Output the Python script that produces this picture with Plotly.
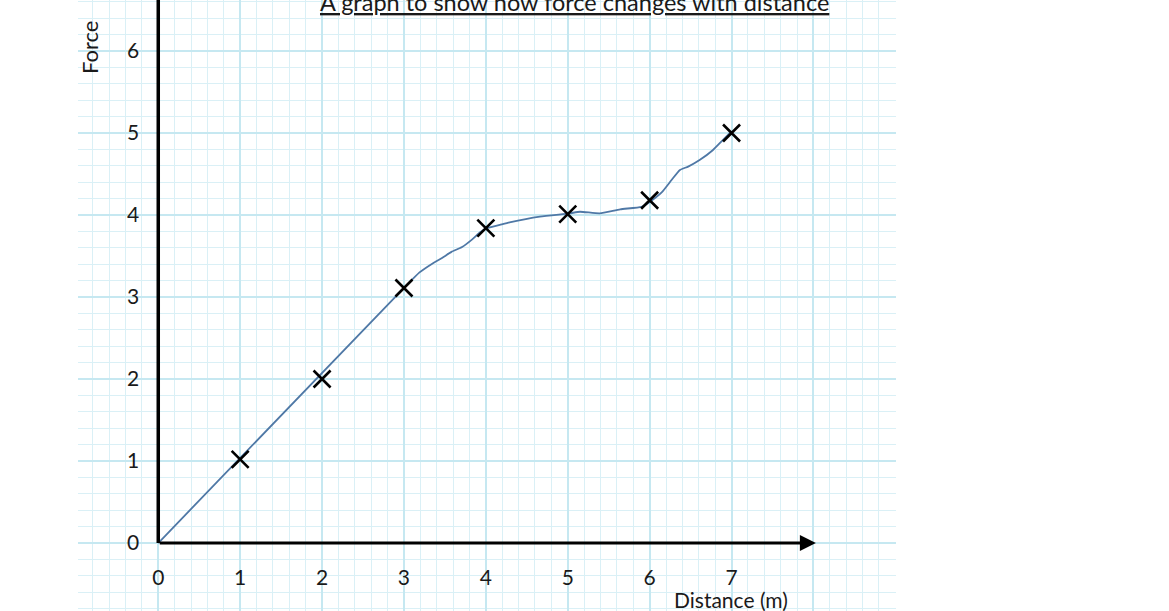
import plotly.graph_objects as go

# ---- data ----
distance_points = [1, 2, 3, 4, 5, 6, 7]
force_points = [1.02, 2.0, 3.11, 3.84, 4.01, 4.18, 5.0]

# hand-drawn curve of best fit
curve_x = [0, 3.01, 3.19, 3.35, 3.47, 3.58, 3.71, 3.83, 3.93, 4.01, 4.17, 4.29,
           4.66, 5.02, 5.15, 5.39, 5.64, 5.90, 6.0, 6.15, 6.27, 6.37, 6.47, 6.61,
           6.77, 6.89, 6.98]
curve_y = [0, 3.12, 3.30, 3.41, 3.48, 3.55, 3.61, 3.70, 3.79, 3.84, 3.88, 3.91,
           3.98, 4.02, 4.04, 4.02, 4.07, 4.10, 4.16, 4.28, 4.43, 4.55, 4.59, 4.67,
           4.79, 4.91, 5.0]

x_tickvals = [0, 1, 2, 3, 4, 5, 6, 7, 8, 9]
x_ticktext = ["0", "1", "2", "3", "4", "5", "6", "7", "", ""]
y_tickvals = [0, 1, 2, 3, 4, 5, 6]
y_ticktext = ["0", "1", "2", "3", "4", "5", "6"]

title_text = "A graph to show how force changes with distance"
x_title = "Distance (m)"
y_title = "Force"

FONT = "Lato"
TXT = "#1a1a1a"
MINOR = "#daf0f6"
MAJOR = "#c6e8f1"

fig = go.Figure()

fig.add_trace(go.Scatter(
    x=curve_x, y=curve_y, mode="lines",
    line=dict(color="#4f78a6", width=1.8, shape="spline", smoothing=0.5),
    hoverinfo="skip", showlegend=False))

fig.add_trace(go.Scatter(
    x=distance_points, y=force_points, mode="markers",
    marker=dict(symbol="x-thin", size=17, line=dict(color="black", width=2.6)),
    showlegend=False))

# y axis line
fig.add_shape(type="line", xref="x", yref="y", x0=0, x1=0, y0=0, y1=7,
              line=dict(color="black", width=3.5), layer="above")

# x axis line with arrow
fig.add_annotation(x=8.03, y=0, ax=0, ay=0, xref="x", yref="y", axref="x", ayref="y",
                   text="", showarrow=True, arrowhead=2, arrowsize=1,
                   arrowwidth=3.2, arrowcolor="black")

fig.add_annotation(text="<u>" + title_text + "</u>", xref="paper", yref="paper",
                   x=(574.5 - 78) / 818, y=1, xanchor="center", yanchor="middle",
                   yshift=-2, showarrow=False,
                   font=dict(family=FONT, size=23.5, color=TXT))

fig.add_annotation(text=y_title, xref="paper", yref="paper",
                   x=(89 - 78) / 818, y=(611 - 48) / 611, textangle=-90,
                   xanchor="center", yanchor="middle", showarrow=False,
                   font=dict(family=FONT, size=22, color=TXT))

fig.add_annotation(text=x_title, xref="paper", yref="paper",
                   x=(731 - 78) / 818, y=(611 - 599) / 611,
                   xanchor="center", yanchor="middle", showarrow=False,
                   font=dict(family=FONT, size=21, color=TXT))

fig.update_xaxes(
    range=[-0.98, 9.008], anchor="free", position=(611 - 543) / 611,
    tickmode="array", tickvals=x_tickvals, ticktext=x_ticktext,
    ticks="outside", ticklen=16, tickcolor="rgba(0,0,0,0)",
    tickfont=dict(family=FONT, size=21, color=TXT),
    showgrid=True, gridcolor=MAJOR, gridwidth=1.5,
    minor=dict(dtick=0.2, tick0=0, showgrid=True, gridcolor=MINOR, gridwidth=1, ticks=""),
    zeroline=False, showline=False, fixedrange=True)

fig.update_yaxes(
    range=[-0.829, 6.622], anchor="free", position=(158.5 - 78) / 818,
    tickmode="array", tickvals=y_tickvals, ticktext=y_ticktext,
    ticks="outside", ticklen=15, tickcolor="rgba(0,0,0,0)",
    tickfont=dict(family=FONT, size=21, color=TXT),
    showgrid=True, gridcolor=MAJOR, gridwidth=1.5,
    minor=dict(dtick=0.2, tick0=0, showgrid=True, gridcolor=MINOR, gridwidth=1, ticks=""),
    zeroline=False, showline=False, fixedrange=True)

fig.update_layout(
    width=1169, height=611, autosize=False,
    margin=dict(l=78, r=273, t=0, b=0, pad=0),
    paper_bgcolor="white", plot_bgcolor="white",
    showlegend=False)

fig.write_html("out.html", config={"displayModeBar": False},
               post_script="document.body.style.margin='0';document.body.style.overflow='hidden';")
